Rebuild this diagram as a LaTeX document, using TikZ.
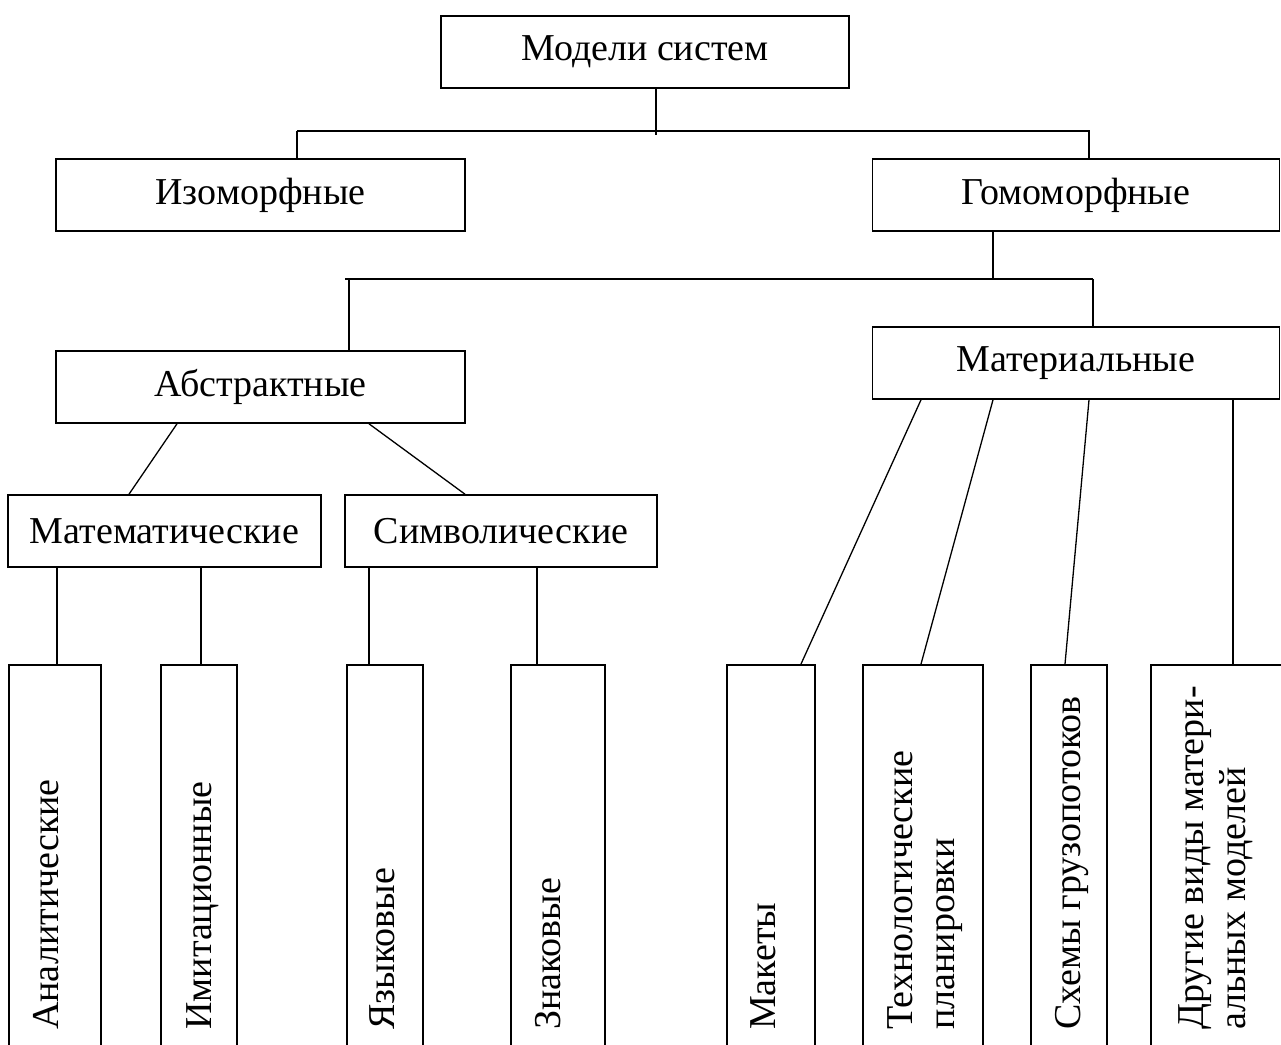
\documentclass[tikz,border=0pt]{standalone}
\usepackage{fontspec}
\setmainfont{Liberation Serif}
\begin{document}
\begin{tikzpicture}[x=1pt,y=-1pt,
  box/.style={draw,line width=1.6pt,inner sep=0pt,font=\fontsize{38}{42}\selectfont},
  tallbox/.style={draw,line width=1.6pt,inner sep=0pt,minimum height=400pt},
  conn/.style={line width=1.3pt},
  vtext/.style={rotate=90,inner sep=0pt,font=\fontsize{38}{42}\selectfont,align=left}]
\clip (0,0) rectangle (1281,1044);
\fill[white] (0,0) rectangle (1281,1044);
% upper boxes
\node[box,minimum width=408pt,minimum height=72pt] (top) at (645,52) {Модели систем};
\node[box,minimum width=409pt,minimum height=72pt] (izo) at (260.5,195) {Изоморфные};
\node[box,minimum width=407pt,minimum height=72pt] (gomo) at (1076,195) {Гомоморфные};
\node[box,minimum width=409pt,minimum height=72pt] (abs) at (260.5,387) {Абстрактные};
\node[box,minimum width=407pt,minimum height=72pt] (mat) at (1076,363) {Материальные};
\node[box,minimum width=313pt,minimum height=72pt] (matem) at (164.5,531) {Математические};
\node[box,minimum width=312pt,minimum height=72pt] (simv) at (501,531) {Символические};
% bottom boxes (top edge at 664, running off the page)
\node[tallbox,minimum width=92pt,anchor=north] (anal) at (55,664) {};
\node[tallbox,minimum width=76pt,anchor=north] (imit) at (199,664) {};
\node[tallbox,minimum width=76pt,anchor=north] (yaz) at (385,664) {};
\node[tallbox,minimum width=94pt,anchor=north] (znak) at (558,664) {};
\node[tallbox,minimum width=88pt,anchor=north] (maket) at (771,664) {};
\node[tallbox,minimum width=120pt,anchor=north] (tech) at (923,664) {};
\node[tallbox,minimum width=76pt,anchor=north] (shem) at (1069,664) {};
\node[tallbox,minimum width=140pt,anchor=north] (drug) at (1221,664) {};
% vertical texts
\node[vtext,anchor=base west] (tanal) at (58,1030) {Аналитические};
\node[vtext,anchor=base west] (timit) at (211,1030) {Имитационные};
\node[vtext,anchor=base west] (tyaz) at (394,1030) {Языковые};
\node[vtext,anchor=base west] (tznak) at (560,1030) {Знаковые};
\node[vtext,anchor=base west] (tmaket) at (775,1030) {Макеты};
\node[vtext,anchor=west] (ttech) at (925,1030) {Технологические\\планировки};
\node[vtext,anchor=west] (tdrug) at (1216,1030) {Другие виды матери-\\альных моделей};
\node[vtext,anchor=base west] (tshem) at (1080,1030) {Схемы грузопотоков};
% first level connectors
\coordinate (b1) at (656,131);
\coordinate (b1l) at (297,131);
\coordinate (b1r) at (1090,131);
\draw[conn] (top.south -| b1) -- ([yshift=-4pt]b1);
\draw[conn] (b1l) -- (b1r);
\draw[conn] (b1l) -- (b1l |- izo.north);
\draw[conn] ([xshift=-1pt]b1r) -- ([xshift=-1pt]b1r |- gomo.north);
% second level connectors
\coordinate (b2) at (993,279);
\coordinate (b2l) at (345,279);
\coordinate (b2r) at (1093,279);
\draw[conn] (gomo.south -| b2) -- (b2);
\draw[conn] (b2l) -- (b2r);
\draw[conn] ([xshift=4pt]b2l) -- ([xshift=4pt]b2l |- abs.north);
\draw[conn] (b2r) -- (b2r |- mat.north);
% abstract branch
\draw[conn] ([xshift=-83.5pt]abs.south) -- ([xshift=-35.5pt]matem.north);
\draw[conn] ([xshift=108.5pt]abs.south) -- ([xshift=-36pt]simv.north);
\draw[conn] ([xshift=2pt]anal.north |- matem.south) -- ([xshift=2pt]anal.north);
\draw[conn] ([xshift=2pt]imit.north |- matem.south) -- ([xshift=2pt]imit.north);
\draw[conn] ([xshift=-16pt]yaz.north |- simv.south) -- ([xshift=-16pt]yaz.north);
\draw[conn] ([xshift=-21pt]znak.north |- simv.south) -- ([xshift=-21pt]znak.north);
% material branch
\draw[conn] ([xshift=-155pt]mat.south) -- ([xshift=30pt]maket.north);
\draw[conn] ([xshift=-83pt]mat.south) -- ([xshift=-2pt]tech.north);
\draw[conn] ([xshift=13pt]mat.south) -- ([xshift=-4pt]shem.north);
\draw[conn] ([xshift=157pt]mat.south) -- ([xshift=12pt]drug.north);
\end{tikzpicture}
\end{document}
